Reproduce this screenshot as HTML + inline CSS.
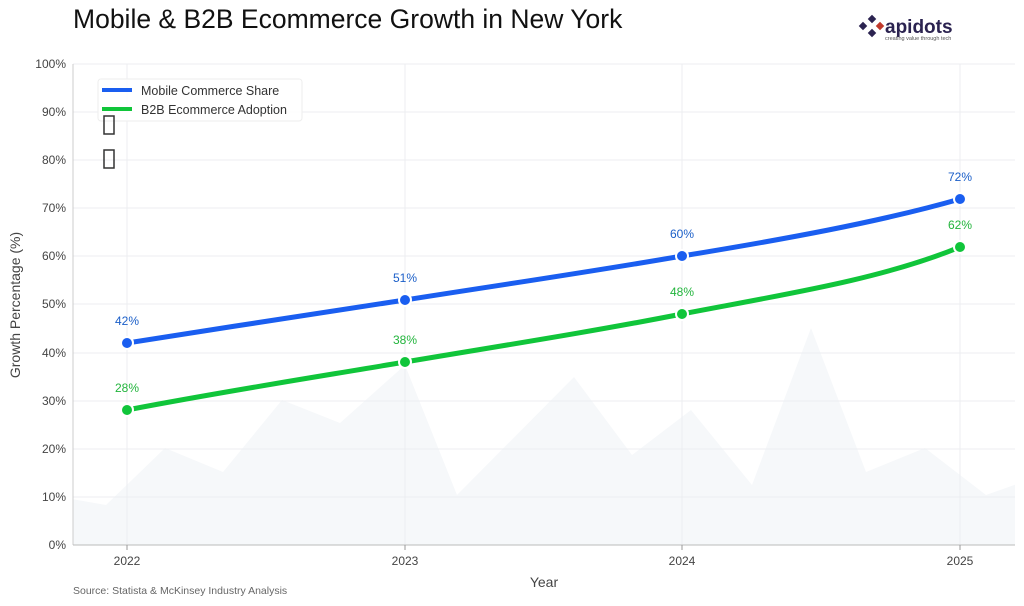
<!DOCTYPE html>
<html><head><meta charset="utf-8"><style>
body{margin:0;background:#fff;}
svg{display:block;font-family:"Liberation Sans",sans-serif;}
</style></head><body>
<svg width="1024" height="606" viewBox="0 0 1024 606" xmlns="http://www.w3.org/2000/svg">
<defs><clipPath id="c"><rect x="73" y="64" width="942" height="481"/></clipPath></defs>
<text x="73" y="28" font-size="26.5" fill="#111">Mobile &amp; B2B Ecommerce Growth in New York</text>
<g transform="translate(860,19)">
<g fill="#2b2350"><rect x="0" y="4" width="6" height="6" transform="rotate(45 3 7)"/><rect x="9" y="-3" width="6" height="6" transform="rotate(45 12 0)"/><rect x="9" y="11" width="6" height="6" transform="rotate(45 12 14)"/></g>
<rect x="17" y="4" width="6" height="6" fill="#c0392b" transform="rotate(45 20 7)"/>
<text x="25" y="14" font-size="19" font-weight="bold" fill="#2b2350">apidots</text>
<text x="25" y="21" font-size="5.5" fill="#555">creating value through tech</text>
</g>
<g clip-path="url(#c)">
<polygon fill="#f6f8fa" points="60,497 106,505 165,448 223,472 282,400 340,423 405,365 457,495 574,377 632,455 691,410 752,485 811,328 866,472 925,448 986,495 1020,483 1020,545 60,545"/>
</g>
<g stroke="#eceef1" stroke-width="1">
<line x1="73" x2="1015" y1="497" y2="497"/><line x1="73" x2="1015" y1="449" y2="449"/><line x1="73" x2="1015" y1="401" y2="401"/><line x1="73" x2="1015" y1="353" y2="353"/><line x1="73" x2="1015" y1="304" y2="304"/><line x1="73" x2="1015" y1="256" y2="256"/><line x1="73" x2="1015" y1="208" y2="208"/><line x1="73" x2="1015" y1="160" y2="160"/><line x1="73" x2="1015" y1="112" y2="112"/><line x1="73" x2="1015" y1="64" y2="64"/>
<line x1="127" x2="127" y1="64" y2="545"/><line x1="405" x2="405" y1="64" y2="545"/><line x1="682" x2="682" y1="64" y2="545"/><line x1="960" x2="960" y1="64" y2="545"/>
</g>
<line x1="73" x2="73" y1="64" y2="545" stroke="#ccc"/>
<line x1="73" x2="1015" y1="545" y2="545" stroke="#bbb"/>
<g stroke="#999"><line x1="127" x2="127" y1="545" y2="550"/><line x1="405" x2="405" y1="545" y2="550"/><line x1="682" x2="682" y1="545" y2="550"/><line x1="960" x2="960" y1="545" y2="550"/></g>
<g font-size="12" fill="#444" text-anchor="end">
<text x="66" y="549">0%</text><text x="66" y="501">10%</text><text x="66" y="453">20%</text><text x="66" y="405">30%</text><text x="66" y="357">40%</text><text x="66" y="308">50%</text><text x="66" y="260">60%</text><text x="66" y="212">70%</text><text x="66" y="164">80%</text><text x="66" y="116">90%</text><text x="66" y="68">100%</text>
</g>
<g font-size="12" fill="#444" text-anchor="middle">
<text x="127" y="565">2022</text><text x="405" y="565">2023</text><text x="682" y="565">2024</text><text x="960" y="565">2025</text>
</g>
<text x="544" y="587" font-size="14" fill="#444" text-anchor="middle">Year</text>
<text transform="translate(20,305) rotate(-90)" font-size="14" fill="#444" text-anchor="middle">Growth Percentage (%)</text>
<text x="73" y="594" font-size="10.5" fill="#666">Source: Statista &amp; McKinsey Industry Analysis</text>
<path d="M127,343 C220,328 310,315 405,300 C500,285 590,272 682,256 C780,240 880,222 960,199" fill="none" stroke="#1a5ef0" stroke-width="5" stroke-linecap="round"/>
<path d="M127,410 C220,392 310,378 405,362 C500,346 590,332 682,314 C780,295 880,280 960,247" fill="none" stroke="#10c53a" stroke-width="5" stroke-linecap="round"/>
<g stroke="#fff" stroke-width="2">
<circle cx="127" cy="343" r="6" fill="#1a5ef0"/><circle cx="405" cy="300" r="6" fill="#1a5ef0"/><circle cx="682" cy="256" r="6" fill="#1a5ef0"/><circle cx="960" cy="199" r="6" fill="#1a5ef0"/>
<circle cx="127" cy="410" r="6" fill="#10c53a"/><circle cx="405" cy="362" r="6" fill="#10c53a"/><circle cx="682" cy="314" r="6" fill="#10c53a"/><circle cx="960" cy="247" r="6" fill="#10c53a"/>
</g>
<g font-size="12" text-anchor="middle" fill="#1a5ec8">
<text x="127" y="325">42%</text><text x="405" y="282">51%</text><text x="682" y="238">60%</text><text x="960" y="181">72%</text>
</g>
<g font-size="12" text-anchor="middle" fill="#22b43c">
<text x="127" y="392">28%</text><text x="405" y="344">38%</text><text x="682" y="296">48%</text><text x="960" y="229">62%</text>
</g>
<rect x="98" y="79" width="204" height="42" fill="#fff" fill-opacity="0.85" stroke="#eee" rx="3"/>
<line x1="102" x2="132" y1="90" y2="90" stroke="#1a5ef0" stroke-width="4"/>
<line x1="102" x2="132" y1="109" y2="109" stroke="#10c53a" stroke-width="4"/>
<g font-size="12.5" fill="#333"><text x="141" y="95">Mobile Commerce Share</text><text x="141" y="114">B2B Ecommerce Adoption</text></g>
<g fill="none" stroke="#333" stroke-width="1.5"><rect x="104" y="116" width="10" height="18"/><rect x="104" y="150" width="10" height="18"/></g>
</svg>
</body></html>
